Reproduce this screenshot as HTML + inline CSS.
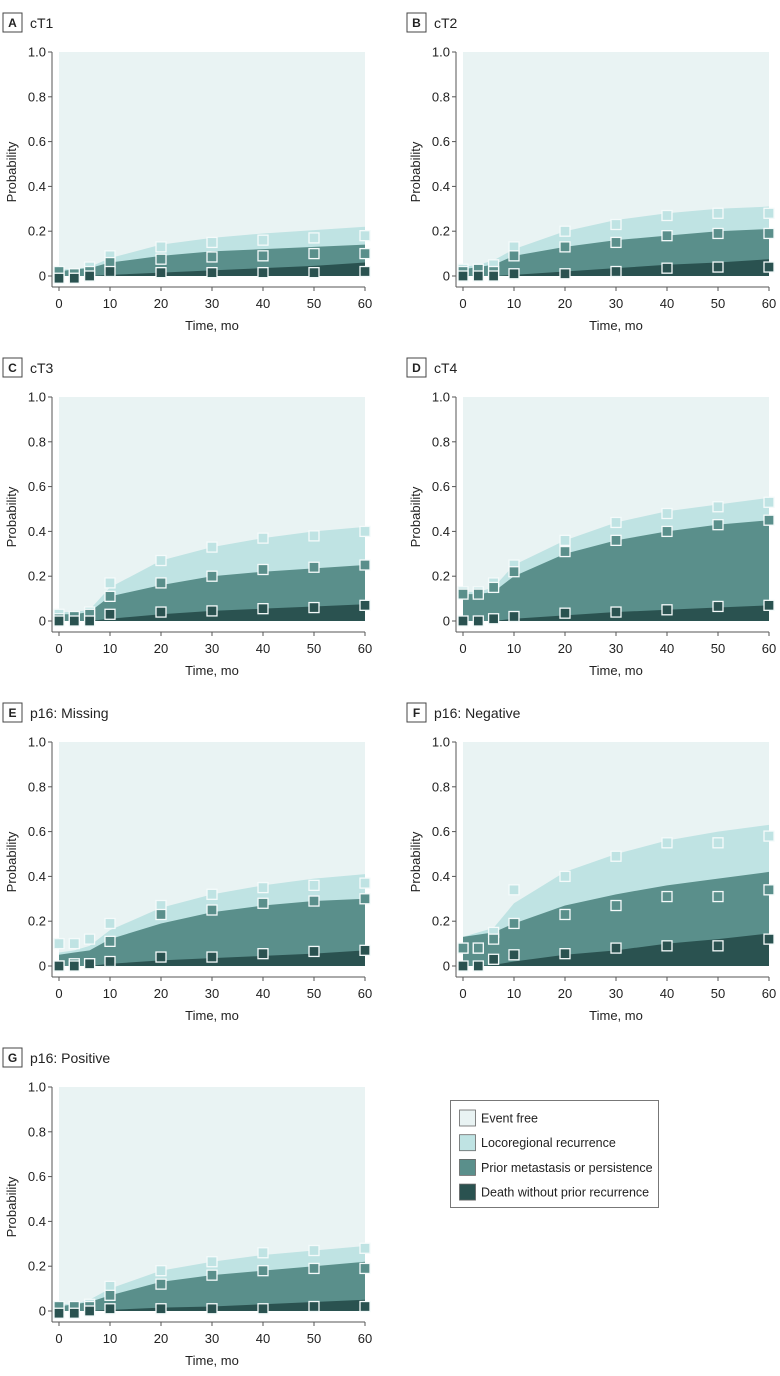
<!DOCTYPE html>
<html><head><meta charset="utf-8">
<style>
body{margin:0;background:#fff;font-family:"Liberation Sans",sans-serif;}
svg{display:block}
</style></head>
<body>
<svg id="chart" width="780" height="1376" xmlns="http://www.w3.org/2000/svg" font-family="Liberation Sans, sans-serif"></svg>
<script>
const times = [0,3,6,10,20,30,40,50,60];
const panelLetters = ["A","B","C","D","E","F","G"];
const panelTitles = ["cT1","cT2","cT3","cT4","p16: Missing","p16: Negative","p16: Positive"];
// cumulative upper boundaries of stacked areas
const deathCurve = [
 [0,0,0,0.005,0.015,0.025,0.035,0.045,0.06],
 [0,0,0,0.005,0.02,0.035,0.05,0.06,0.075],
 [0,0,0,0.01,0.03,0.045,0.055,0.065,0.075],
 [0,0,0,0.01,0.025,0.04,0.05,0.06,0.07],
 [0,0,0,0.01,0.025,0.035,0.045,0.055,0.07],
 [0,0,0.005,0.02,0.05,0.07,0.1,0.12,0.145],
 [0,0,0,0.005,0.015,0.02,0.03,0.04,0.05]];
const metaCurve = [
 [0.02,0.03,0.035,0.06,0.09,0.11,0.12,0.13,0.14],
 [0.03,0.04,0.05,0.09,0.13,0.16,0.18,0.2,0.21],
 [0.03,0.03,0.04,0.11,0.16,0.2,0.22,0.235,0.25],
 [0.12,0.12,0.13,0.2,0.3,0.36,0.4,0.43,0.45],
 [0.05,0.06,0.07,0.12,0.19,0.24,0.27,0.29,0.3],
 [0.13,0.14,0.15,0.19,0.27,0.32,0.36,0.39,0.42],
 [0.02,0.03,0.04,0.07,0.13,0.16,0.18,0.2,0.22]];
const totalCurve = [
 [0.03,0.03,0.04,0.08,0.14,0.17,0.19,0.205,0.22],
 [0.04,0.05,0.07,0.12,0.2,0.25,0.28,0.3,0.31],
 [0.04,0.04,0.05,0.15,0.27,0.33,0.37,0.4,0.42],
 [0.13,0.13,0.15,0.25,0.36,0.44,0.49,0.52,0.55],
 [0.06,0.07,0.09,0.16,0.26,0.32,0.36,0.39,0.41],
 [0.13,0.15,0.17,0.28,0.42,0.5,0.56,0.6,0.63],
 [0.03,0.03,0.05,0.1,0.18,0.22,0.25,0.27,0.29]];
// observed markers
const totalObs = [
 [0.01,0.01,0.04,0.09,0.13,0.15,0.16,0.17,0.18],
 [0.03,0.03,0.05,0.13,0.2,0.23,0.27,0.28,0.28],
 [0.03,0.02,0.04,0.17,0.27,0.33,0.37,0.38,0.4],
 [0.13,0.13,0.17,0.25,0.36,0.44,0.48,0.51,0.53],
 [0.1,0.1,0.12,0.19,0.27,0.32,0.35,0.36,0.37],
 [0.08,0.08,0.15,0.34,0.4,0.49,0.55,0.55,0.58],
 [0.01,0.01,0.03,0.11,0.18,0.22,0.26,0.27,0.28]];
const metaObs = [
 [0.02,0.01,0.02,0.06,0.075,0.085,0.09,0.1,0.1],
 [0.02,0.03,0.02,0.09,0.13,0.15,0.18,0.19,0.19],
 [0.01,0.02,0.03,0.11,0.17,0.2,0.23,0.24,0.25],
 [0.12,0.12,0.15,0.22,0.31,0.36,0.4,0.43,0.45],
 [0,0.01,0.01,0.11,0.23,0.25,0.28,0.29,0.3],
 [0.08,0.08,0.12,0.19,0.23,0.27,0.31,0.31,0.34],
 [0.02,0.02,0.02,0.07,0.12,0.16,0.18,0.19,0.19]];
const deathObs = [
 [-0.01,-0.01,0,0.02,0.015,0.015,0.015,0.015,0.02],
 [0,0,0,0.01,0.01,0.02,0.035,0.04,0.04],
 [0,0,0,0.03,0.04,0.045,0.055,0.06,0.07],
 [0,0,0.01,0.02,0.035,0.04,0.05,0.065,0.07],
 [0,0,0.01,0.02,0.04,0.04,0.055,0.065,0.07],
 [0,0,0.03,0.05,0.055,0.08,0.09,0.09,0.12],
 [-0.01,-0.01,0,0.01,0.01,0.01,0.01,0.02,0.02]];
const xTicks = [0,10,20,30,40,50,60];
const yTicks = [0,0.2,0.4,0.6,0.8,1.0];
const yTickLabels = ["0","0.2","0.4","0.6","0.8","1.0"];

const C_FREE="#e9f3f3", C_LOCO="#bfe3e3", C_META="#5a8f8b", C_DEATH="#2a5250";
const NS="http://www.w3.org/2000/svg";
const svg=document.getElementById('chart');
function mk(tag,attrs,parent){const e=document.createElementNS(NS,tag);for(const k in attrs)e.setAttribute(k,attrs[k]);(parent||svg).appendChild(e);return e;}

panelLetters.forEach((L,i)=>{
  const col=i%2,row=Math.floor(i/2);
  const ox=col*404, oy=row*345;
  const x0=59+ox, x1=365+ox, yTop=52+oy, yBot=276+oy;
  const xs=t=>x0+(t/60)*(x1-x0);
  const ys=v=>yBot-v*(yBot-yTop);
  const g=mk('g',{});
  
  
  // label box
  const lb=mk('rect',{x:3+ox,y:13+oy,width:19,height:19,fill:'#fff',stroke:'#444','stroke-width':1},g);
  
  
  const lt=mk('text',{x:12.5+ox,y:27+oy,'font-size':12,'font-weight':'bold','text-anchor':'middle',fill:'#222'},g);
  lt.textContent=L;
  
  
  const tt=mk('text',{x:30+ox,y:28+oy,'font-size':14,fill:'#222'},g);
  tt.textContent=panelTitles[i];
  
  
  // background event free
  const bg=mk('rect',{x:x0,y:yTop,width:x1-x0,height:yBot-yTop,fill:C_FREE},g);
  
  
  function area(arr,fill,name){
    let d='M'+xs(times[0])+','+ys(0);
    times.forEach((t,k)=>{d+=' L'+xs(t)+','+ys(arr[k]);});
    d+=' L'+xs(times[times.length-1])+','+ys(0)+' Z';
    const p=mk('path',{d:d,fill:fill},g);
    
    
  }
  area(totalCurve[i],C_LOCO,'area-locoregional');
  area(metaCurve[i],C_META,'area-metastasis');
  area(deathCurve[i],C_DEATH,'area-death');
  function markers(arr,fill,name){
    times.forEach((t,k)=>{
      const m=mk('rect',{x:xs(t)-5,y:ys(arr[k])-5,width:10,height:10,fill:fill,stroke:'#f4fafa','stroke-width':1.3},g);
      
      
    });
  }
  markers(totalObs[i],C_LOCO,'marker-locoregional');
  markers(metaObs[i],C_META,'marker-metastasis');
  markers(deathObs[i],C_DEATH,'marker-death');
  // axes
  const ya=mk('line',{x1:52+ox,y1:yTop,x2:52+ox,y2:287+oy,stroke:'#555','stroke-width':1},g);
  
  
  const xa=mk('line',{x1:52+ox,y1:287+oy,x2:x1,y2:287+oy,stroke:'#555','stroke-width':1},g);
  
  
  yTicks.forEach((v,k)=>{
    mk('line',{x1:48+ox,y1:ys(v),x2:52+ox,y2:ys(v),stroke:'#555'},g);
    const tl=mk('text',{x:46+ox,y:ys(v)+4.5,'font-size':13,'text-anchor':'end',fill:'#222'},g);
    tl.textContent=yTickLabels[k];
    
    
  });
  xTicks.forEach(t=>{
    mk('line',{x1:xs(t),y1:287+oy,x2:xs(t),y2:291+oy,stroke:'#555'},g);
    const tl=mk('text',{x:xs(t),y:308+oy,'font-size':13,'text-anchor':'middle',fill:'#222'},g);
    tl.textContent=String(t);
    
    
  });
  const xt=mk('text',{x:(x0+x1)/2,y:330+oy,'font-size':13,'text-anchor':'middle',fill:'#222'},g);
  xt.textContent='Time, mo';
  
  
  const yt=mk('text',{x:0,y:0,'font-size':13,'text-anchor':'middle',fill:'#222',transform:'translate('+(16+ox)+','+((yTop+yBot)/2+8)+') rotate(-90)'},g);
  yt.textContent='Probability';
  
  
});

// legend
const legendLabels=["Event free","Locoregional recurrence","Prior metastasis or persistence","Death without prior recurrence"];
const legendColors=[C_FREE,C_LOCO,C_META,C_DEATH];
const lg=mk('g',{});


mk('rect',{x:450.5,y:1100.5,width:208,height:107,fill:'#fff',stroke:'#777'},lg);
legendLabels.forEach((l,k)=>{
  const cy=1118+k*24.7;
  const sw=mk('rect',{x:459.5,y:cy-8,width:16,height:16,fill:legendColors[k],stroke:'#666','stroke-width':0.8},lg);
  
  
  const t=mk('text',{x:481,y:cy+4.5,'font-size':12.5,fill:'#222'},lg);
  t.textContent=l;
  
  
});
</script>
</body></html>
